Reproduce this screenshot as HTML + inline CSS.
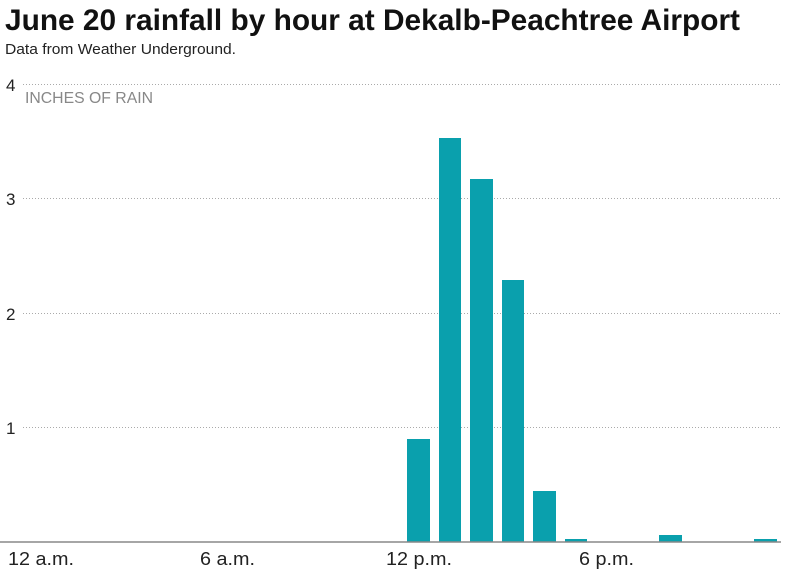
<!DOCTYPE html>
<html><head><style>
body{margin:0;background:#fff;width:800px;height:574px;overflow:hidden;font-family:"Liberation Sans",sans-serif}
</style></head><body>
<svg width="800" height="574" xmlns="http://www.w3.org/2000/svg" font-family="Liberation Sans, sans-serif">
<text x="5" y="30" font-size="30" font-weight="bold" fill="#111" textLength="735" lengthAdjust="spacingAndGlyphs">June 20 rainfall by hour at Dekalb-Peachtree Airport</text>
<text x="5" y="54" font-size="15" fill="#222" textLength="231" lengthAdjust="spacingAndGlyphs">Data from Weather Underground.</text>
<g stroke="#aaa" stroke-dasharray="1,2" stroke-width="1">
<line x1="23" y1="84.5" x2="781" y2="84.5"/>
<line x1="23" y1="198.5" x2="781" y2="198.5"/>
<line x1="23" y1="313.5" x2="781" y2="313.5"/>
<line x1="23" y1="427.5" x2="781" y2="427.5"/>
</g>
<g font-size="17" fill="#222">
<text x="6" y="91">4</text><text x="6" y="205">3</text><text x="6" y="320">2</text><text x="6" y="434">1</text>
</g>
<text x="25" y="103" font-size="16" fill="#888" textLength="128" lengthAdjust="spacingAndGlyphs">INCHES OF RAIN</text>
<g fill="#0aa0ad">
<rect x="407" y="439" width="23" height="103"/>
<rect x="439" y="138" width="22" height="404"/>
<rect x="470" y="179" width="23" height="363"/>
<rect x="502" y="280" width="22" height="262"/>
<rect x="533" y="491" width="23" height="51"/>
<rect x="565" y="539" width="22" height="3"/>
<rect x="659" y="535" width="23" height="7"/>
<rect x="754" y="539" width="23" height="3"/>
</g>
<line x1="0" y1="542" x2="781" y2="542" stroke="#888" stroke-width="1.5"/>
<g font-size="18" fill="#222">
<text x="8" y="565" textLength="66" lengthAdjust="spacingAndGlyphs">12 a.m.</text>
<text x="200" y="565" textLength="55" lengthAdjust="spacingAndGlyphs">6 a.m.</text>
<text x="386" y="565" textLength="66" lengthAdjust="spacingAndGlyphs">12 p.m.</text>
<text x="579" y="565" textLength="55" lengthAdjust="spacingAndGlyphs">6 p.m.</text>
</g>
</svg>
</body></html>
